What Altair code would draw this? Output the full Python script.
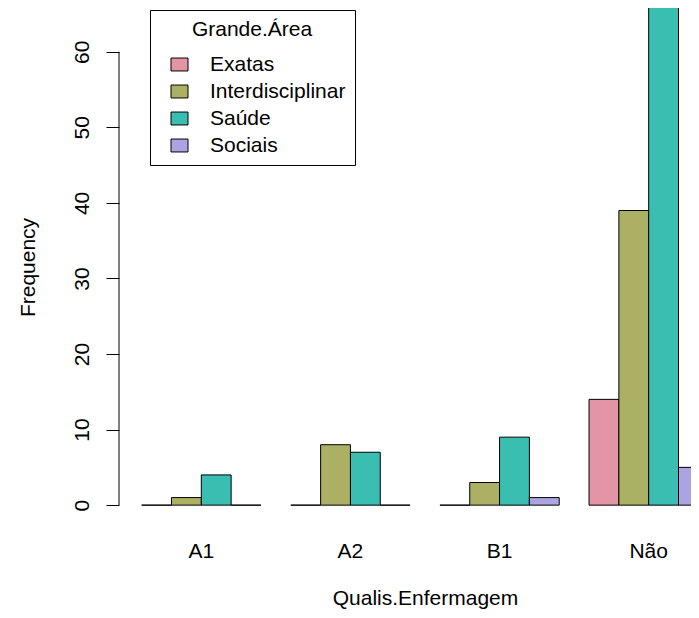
import altair as alt
import pandas as pd

categories = ["A1", "A2", "B1", "Não"]
areas = ["Exatas", "Interdisciplinar", "Saúde", "Sociais"]
exatas = [0, 0, 0, 14]
interdisciplinar = [1, 8, 3, 39]
saude = [4, 7, 9, 69]
sociais = [0, 0, 1, 5]
colors = ["#E495A5", "#ABB065", "#39BEB1", "#ACA4E2"]
y_ticks = [0, 10, 20, 30, 40, 50, 60]

rows = []
for i, c in enumerate(categories):
    for a, vals in zip(areas, [exatas, interdisciplinar, saude, sociais]):
        rows.append({"Qualis": c, "Area": a, "Freq": vals[i]})
df = pd.DataFrame(rows)

FONT = "Liberation Sans"
FS = 21

x = alt.X(
    "Qualis:N", sort=categories,
    scale=alt.Scale(range=[0, 612], paddingInner=0.2, paddingOuter=0.152),
    axis=alt.Axis(title="Qualis.Enfermagem", labelAngle=0, domain=False, ticks=False,
                  labelPadding=14, titlePadding=26, labelFontSize=FS, titleFontSize=FS,
                  titleFontWeight="normal", labelFont=FONT, titleFont=FONT,
                  labelColor="black", titleColor="black", grid=False),
)
xo = alt.XOffset("Area:N", sort=areas, scale=alt.Scale(domain=areas, paddingInner=0, paddingOuter=0))
y = alt.Y(
    "Freq:Q",
    scale=alt.Scale(domain=[-2.76, 65.8], nice=False, zero=False),
    axis=alt.Axis(title="Frequency", values=y_ticks, domain=False, tickSize=13, tickColor="black",
                  labelAngle=-90, labelAlign="center", labelBaseline="bottom", labelPadding=14,
                  titlePadding=33, labelFontSize=FS, titleFontSize=FS, titleFontWeight="normal",
                  labelFont=FONT, titleFont=FONT, labelColor="black", titleColor="black", grid=False),
)
color = alt.Color(
    "Area:N", sort=areas, scale=alt.Scale(domain=areas, range=colors),
    legend=alt.Legend(title="Grande.Área", orient="none", legendX=31, legendY=2,
                      strokeColor="black", padding=9, symbolType="M-1,-0.76H1V0.76H-1Z",
                      symbolSize=289, symbolStrokeColor="black", symbolStrokeWidth=1,
                      symbolOpacity=1, symbolOffset=10, labelOffset=20, rowPadding=5,
                      titlePadding=14, labelFontSize=FS, titleFontSize=FS,
                      titleFontWeight="normal", titleAnchor="middle", labelFont=FONT,
                      titleFont=FONT, labelColor="black", titleColor="black"),
)

bars = alt.Chart(df).mark_bar(stroke="black", strokeWidth=1, clip=True, opacity=1).encode(
    x=x, xOffset=xo, y=y, y2=alt.datum(0), color=color
)

axis_line = alt.Chart(pd.DataFrame({"k": [1]})).mark_rule(color="black", strokeWidth=1).encode(
    x=alt.value(0), y=alt.datum(0), y2=alt.datum(60)
)

chart = alt.layer(bars, axis_line).properties(
    width=572, height=518,
    padding={"left": 111, "top": 0, "right": 0, "bottom": 84},
    autosize=alt.AutoSizeParams(type="none"),
    background="white",
).configure_view(strokeWidth=0, stroke="transparent")

chart.save("out.html", embed_options={"renderer": "svg", "actions": False})
